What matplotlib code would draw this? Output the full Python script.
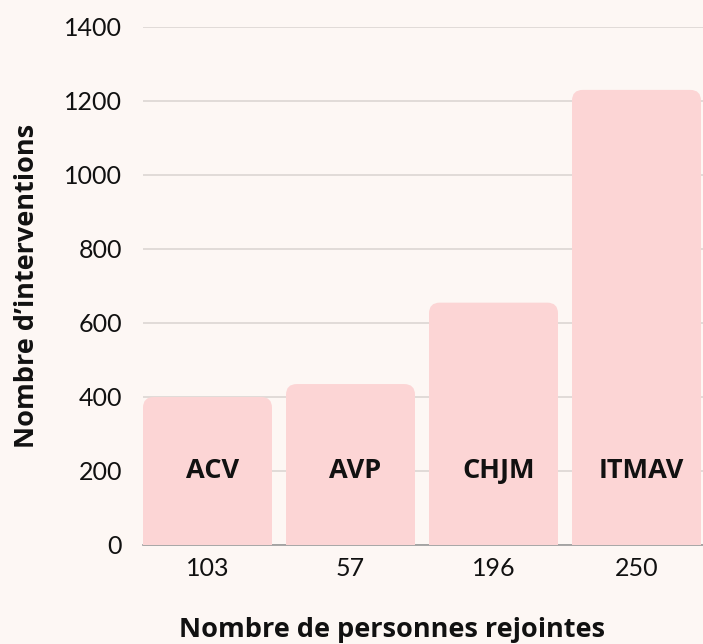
import matplotlib.pyplot as plt
from matplotlib.patches import FancyBboxPatch, Rectangle

sites = ['ACV', 'AVP', 'CHJM', 'ITMAV']
people = ['103', '57', '196', '250']
interventions = [400, 435, 655, 1230]

bg = '#fdf7f4'
bar_col = '#fcd5d5'

fig = plt.figure(figsize=(7.03, 6.44), dpi=100, facecolor=bg)
ax = fig.add_axes([143 / 703, 1 - 545 / 644, 560 / 703, (545 - 27) / 644])
ax.set_facecolor(bg)
ax.set_xlim(-0.451, 3.465)
ax.set_ylim(0, 1400)

w = 0.902
r = 0.075
aspect = (1400 / 518) / (3.916 / 560)
for i, v in enumerate(interventions):
    ax.add_patch(FancyBboxPatch((i - w / 2, 0), w, v,
                                boxstyle='round,pad=0,rounding_size=%f' % r,
                                mutation_aspect=aspect, fc=bar_col, ec='none', zorder=3))
    ax.add_patch(Rectangle((i - w / 2, 0), w, v / 2, fc=bar_col, ec='none', zorder=3))
    ax.text(i + 0.035, 200, sites[i], ha='center', va='center', fontsize=19.5,
            fontweight='bold', family='Open Sans', color='#111111', zorder=4)

ax.set_yticks(range(0, 1401, 200))
ax.grid(axis='y', color='#dcd6d3', lw=1.2, zorder=1)
ax.set_xticks(range(len(people)))
ax.set_xticklabels(people)
for s in ['top', 'right', 'left']:
    ax.spines[s].set_visible(False)
ax.spines['bottom'].set_color('#999999')
ax.spines['bottom'].set_linewidth(1.2)
ax.spines['bottom'].set_zorder(2)
ax.tick_params(length=0, labelsize=18, colors='#111111')
ax.tick_params(axis='y', pad=15)
ax.tick_params(axis='x', pad=9)
for lab in ax.get_xticklabels() + ax.get_yticklabels():
    lab.set_family('Lato')

# x label sits right at the bottom edge, keep descenders inside
fig.text(392 / 703, 7 / 644, 'Nombre de personnes rejointes',
         ha='center', va='baseline', fontsize=19.5, fontweight='bold', family='Open Sans', color='#111111')
fig.text(27 / 703, 1 - 286 / 644, 'Nombre d\u2019interventions', rotation=90,
         ha='center', va='center', fontsize=19.5, fontweight='bold', family='Open Sans', color='#111111')

fig.savefig('out.png', dpi=100, facecolor=bg)
